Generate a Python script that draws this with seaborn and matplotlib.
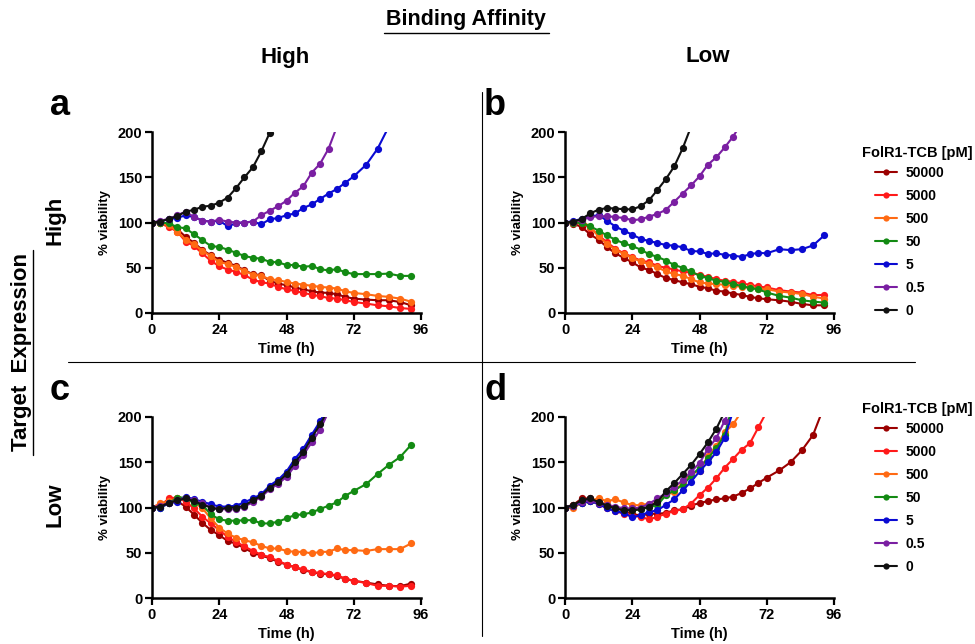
import numpy as np
import pandas as pd
import matplotlib
matplotlib.use("Agg")
import matplotlib.pyplot as plt
from matplotlib.lines import Line2D
import seaborn as sns

# ---------------- data ----------------
times = [0, 3, 6, 9, 12, 15, 18, 21, 24, 27, 30, 33, 36, 39, 42, 45, 48, 51, 54, 57,
         60, 63, 66, 69, 72, 76.5, 80.5, 84.5, 88.5, 92.5]
concs = ["50000", "5000", "500", "50", "5", "0.5", "0"]
colors = ["#9b0000", "#ff1a1a", "#ff6a13", "#138a13", "#0a0ad2", "#7a1fa2", "#111111"]

# panel a : high affinity / high expression
a_50000 = [100, 99, 97, 93, 84, 77.6, 69.5, 63.9, 59, 55.4, 52.1, 47.3, 42.9, 41.8, 35.5, 32.5, 30.7, 28.1,
           26.2, 24, 22.6, 22.2, 20.7, 17.8, 15.9, 14.8, 14.1, 14.1, 12.2, 8.5]
a_5000 = [100, 99, 95, 90, 79, 74, 65.8, 57.6, 51.7, 48, 45.5, 41.8, 37, 34, 32.5, 28.8, 26.2, 24.4, 22.2,
          20.3, 18.5, 16.6, 15.9, 14.1, 12.2, 10.4, 8.5, 7.4, 5.5, 4.5]
a_500 = [100, 99, 97, 90, 81, 76, 68.7, 62.8, 56.5, 54, 51, 46.6, 42.5, 41, 37.3, 36.2, 34.4, 32.5, 31.4,
         30, 28.9, 28.1, 27, 24, 22.2, 20.7, 18.9, 17.8, 15.9, 12.5]
a_50 = [100, 100, 99, 95, 93.5, 87, 80.5, 74, 73, 70, 66.5, 63, 61, 60, 56.5, 56, 53, 53, 51, 52, 48.5,
        47, 48.5, 45, 43, 43, 43, 43.5, 41, 41]
a_5 = [100, 101, 104, 105, 108, 106, 102, 101, 102, 96, 99, 100, 101, 98, 103.5, 105, 108, 110, 116, 120,
       126, 132, 137, 144, 151, 164, 181.5, 206]
a_05 = [100, 102, 104, 108, 112, 106, 102, 101, 103, 101, 100, 100, 101, 108, 113, 118, 124, 133, 140,
        155, 165, 181.5, 206]
a_0 = [100, 101, 104, 107, 112, 114, 117.5, 118.5, 122, 127.5, 138, 150, 161, 178.5, 199]

# panel b : low affinity / high expression
b_50000 = [100, 98.6, 95, 86.8, 80.9, 72.7, 66, 60.8, 56, 50.4, 47.5, 43, 38.6, 36.4, 33.8, 31.9, 28.9,
           27.4, 24.5, 23.7, 21.5, 20, 17.8, 16.3, 15.2, 14, 12.5, 10, 8.5, 8.5]
b_5000 = [100, 99, 99, 94, 86, 78, 71, 66, 62, 58, 56, 52, 50, 48, 46, 44.5, 42.3, 40, 37.5, 35.6, 34.5,
          32.6, 31.2, 29.3, 28.2, 25.2, 23.7, 22.6, 19.7, 20]
b_500 = [100, 100, 102, 95, 84.6, 76.4, 69.7, 65.3, 60.8, 57, 54, 50.4, 46, 43, 41.2, 37.5, 33.8, 32.6,
         31.9, 31.2, 30, 28.9, 28.2, 27, 26.3, 23.7, 22.6, 21, 18, 16]
b_50 = [100, 100, 99.5, 95.7, 91, 85.7, 80.9, 77, 74, 70, 65, 62, 58, 53, 50, 46, 41, 38.6, 35.6, 34.5,
        31.9, 30, 27.4, 26.3, 22.6, 18.9, 17, 14.1, 12.6, 11.5]
b_5 = [100, 101.7, 104, 107, 108, 102, 95.5, 91, 86.5, 82, 79.4, 77.5, 75, 74.5, 72.5, 68.5, 68, 65.3, 66,
       64.2, 63.5, 62, 65, 66.4, 66, 70.5, 69.5, 70.5, 74.6, 85.7]
b_05 = [100, 101, 103, 106, 107, 107, 106, 105, 102.5, 103.5, 106.5, 109.5, 114, 123, 132, 141, 151, 164,
        172, 183, 195, 210]
b_0 = [100, 101, 104, 110, 114.3, 116, 115.4, 114.7, 114.5, 118, 124.7, 136, 148, 162, 182, 206]

# panel c : high affinity / low expression
c_50000 = [100, 103, 106, 107, 101, 92, 83, 75, 69.5, 63, 60, 55, 50, 47, 44, 40, 37, 34, 31, 28.5, 27,
           26, 24.5, 21, 19, 17, 15, 13.5, 13, 16]
c_5000 = [100, 102, 110, 111, 106.5, 99, 89.8, 82.4, 75, 67.5, 62, 57, 52, 48, 45, 41, 37, 34, 31.5, 29,
          27.5, 26.5, 25, 21.5, 19, 16.5, 13.5, 13.5, 12.5, 13.5]
c_500 = [100, 104.6, 107, 110, 110, 106, 99, 88, 77.6, 71.3, 66.5, 64, 61.4, 57.7, 54.7, 54.7, 52, 51, 51,
         49.2, 51, 51, 54.7, 52.9, 52.9, 52, 54, 54, 54, 60.3]
c_50 = [100, 100, 104.6, 111, 111, 104.6, 102.8, 92.4, 86.9, 85.4, 85.4, 86, 86, 82.4, 82.4, 84.3, 88,
        91.7, 92.4, 94.6, 98.3, 102, 105.7, 113, 118.3, 126, 137, 147, 155.6, 169.3]
c_5 = [100, 100, 104.6, 106.5, 112, 109, 106.5, 103.5, 101, 101, 102, 105.7, 110, 114.6, 124.2, 130.5,
       139.7, 153.8, 164.9, 180.4, 195.2, 212]
c_05 = [100, 102, 105, 108, 111, 108, 105, 100, 98, 98, 98, 101, 106, 112, 120, 126, 134, 146, 158, 172,
        186, 206]
c_0 = [100, 101, 105, 108, 110, 107, 103, 100, 98, 100, 100, 102, 108, 113, 122, 128, 137, 150, 161, 177,
       192, 208]

# panel d : low affinity / low expression
d_50000 = [100, 103, 110, 110, 106, 103, 100, 96, 93, 91, 93, 93, 94, 97, 98, 102, 105, 107, 109, 110, 112,
           116, 121, 127, 133, 141, 150, 163, 180, 212]
d_5000 = [100, 103, 105, 107, 104, 99, 96, 93, 91, 89.6, 87, 89.6, 93.3, 96, 98, 104.4, 113.7, 121.9,
          132.2, 144, 153.7, 163.7, 171, 188.5, 206]
d_500 = [100, 99, 106, 108, 110, 107, 109, 105.6, 102.6, 102.6, 104.4, 104.4, 114.4, 116.7, 128, 138, 140,
         157, 168, 183, 192, 206]
d_50 = [100, 102, 105, 107, 105, 102, 99, 98, 97, 98, 100.7, 102.6, 113.7, 119, 124.8, 135, 144, 154.4,
        165.6, 180.4, 215]
d_5 = [100, 102, 105, 107, 104, 99, 96, 94, 89, 91.5, 95, 97, 103, 109, 119, 128.5, 140, 150, 161, 177, 207]
d_05 = [100, 102, 106, 108, 105, 103, 101, 99, 99, 100, 104, 110, 115.6, 123, 130, 139.6, 149, 164.8,
        176.7, 196, 215]
d_0 = [100, 103, 108, 110, 106, 102, 99, 97, 97, 98, 101, 106, 118, 127, 137, 147, 159, 172, 187, 206]

panels = {
    "a": [a_50000, a_5000, a_500, a_50, a_5, a_05, a_0],
    "b": [b_50000, b_5000, b_500, b_50, b_5, b_05, b_0],
    "c": [c_50000, c_5000, c_500, c_50, c_5, c_05, c_0],
    "d": [d_50000, d_5000, d_500, d_50, d_5, d_05, d_0],
}

x_ticks = [0, 24, 48, 72, 96]
y_ticks = [0, 50, 100, 150, 200]

# ---------------- style ----------------
sns.set_theme(style="ticks")
plt.rcParams["font.family"] = ["Liberation Sans", "DejaVu Sans"]
plt.rcParams["font.weight"] = "bold"
for k in ("text.color", "axes.labelcolor", "xtick.color", "ytick.color", "axes.edgecolor"):
    plt.rcParams[k] = "black"

W, H = 975, 644
fig = plt.figure(figsize=(W / 100, H / 100), dpi=100)

def fx(px):
    return px / W

def fy(py):
    return 1 - py / H

ax_pos = {
    "a": (152, 132, 421, 313),
    "b": (565, 132, 834, 313),
    "c": (152, 417, 421, 598),
    "d": (565, 417, 834, 598),
}

palette = dict(zip(concs, colors))
draw_order = concs  # 50000 drawn first

for key, series in panels.items():
    rows = []
    for conc, vals in zip(concs, series):
        for t, v in zip(times, vals):
            rows.append({"time": t, "value": v, "conc": conc})
    df = pd.DataFrame(rows)
    l, t_, r, b = ax_pos[key]
    ax = fig.add_axes([fx(l), fy(b), fx(r) - fx(l), fy(t_) - fy(b)])
    sns.lineplot(data=df, x="time", y="value", hue="conc", hue_order=draw_order,
                 palette=palette, marker="o", markersize=5.2, markeredgewidth=0,
                 linewidth=1.5, estimator=None, sort=False, legend=False, ax=ax)
    ax.set_xlim(0, 96)
    ax.set_ylim(0, 200)
    ax.set_xticks(x_ticks)
    ax.set_yticks(y_ticks)
    ax.set_xticklabels([str(v) for v in x_ticks], fontsize=10.5, fontweight="bold")
    ax.set_yticklabels([str(v) for v in y_ticks], fontsize=10.5, fontweight="bold")
    ax.set_xlabel("Time (h)", fontsize=10.5, fontweight="bold", labelpad=4)
    ax.set_ylabel("% viability", fontsize=9.5, fontweight="bold", labelpad=5)
    sns.despine(ax=ax)
    for s in ("left", "bottom"):
        ax.spines[s].set_linewidth(1.8)
        ax.spines[s].set_color("black")
    ax.tick_params(axis="both", width=1.6, length=5, color="black", pad=2, labelcolor="black")
    ax.set_facecolor("white")

# legends
handles = [Line2D([0], [0], color=c, lw=1.5, marker="o", markersize=4.5, markeredgewidth=0)
           for c in colors]
for ytitle, ytop in ((153, 166), (409, 422)):
    fig.text(fx(862), fy(ytitle), "FolR1-TCB [pM]", fontsize=10.5, fontweight="bold",
             ha="left", va="center")
    leg = fig.legend(handles, concs, loc="upper left", bbox_to_anchor=(fx(875), fy(ytop)),
                     frameon=False, fontsize=10, handlelength=1.6, handletextpad=0.6,
                     labelspacing=0.65, borderpad=0, borderaxespad=0)
    for txt in leg.get_texts():
        txt.set_fontweight("bold")

# headings
fig.text(fx(466), fy(20), "Binding Affinity", fontsize=15.5, fontweight="bold", ha="center", va="center")
fig.add_artist(Line2D([fx(384), fx(549)], [fy(33), fy(33)], color="black", lw=1.0))
fig.text(fx(285), fy(57), "High", fontsize=16, fontweight="bold", ha="center", va="center")
fig.text(fx(708), fy(57), "Low", fontsize=16, fontweight="bold", ha="center", va="center")

fig.text(fx(55), fy(220), "High", fontsize=16, fontweight="bold", ha="center", va="center", rotation=90)
fig.text(fx(55), fy(505), "Low", fontsize=16, fontweight="bold", ha="center", va="center", rotation=90)
fig.text(fx(22), fy(352), "Target  Expression", fontsize=16, fontweight="bold", ha="center",
         va="center", rotation=90)
fig.add_artist(Line2D([fx(33), fx(33)], [fy(250), fy(455)], color="black", lw=1.0))

for letter, (x, y) in {"a": (50, 115), "b": (484, 115), "c": (50, 400), "d": (484, 400)}.items():
    fig.text(fx(x), fy(y), letter, fontsize=26, fontweight="bold", ha="left", va="baseline")

# divider lines
fig.add_artist(Line2D([fx(68), fx(915)], [fy(362), fy(362)], color="black", lw=0.8))
fig.add_artist(Line2D([fx(482), fx(482)], [fy(92), fy(636)], color="black", lw=0.8))

fig.savefig("out.png", dpi=100, facecolor="white")
